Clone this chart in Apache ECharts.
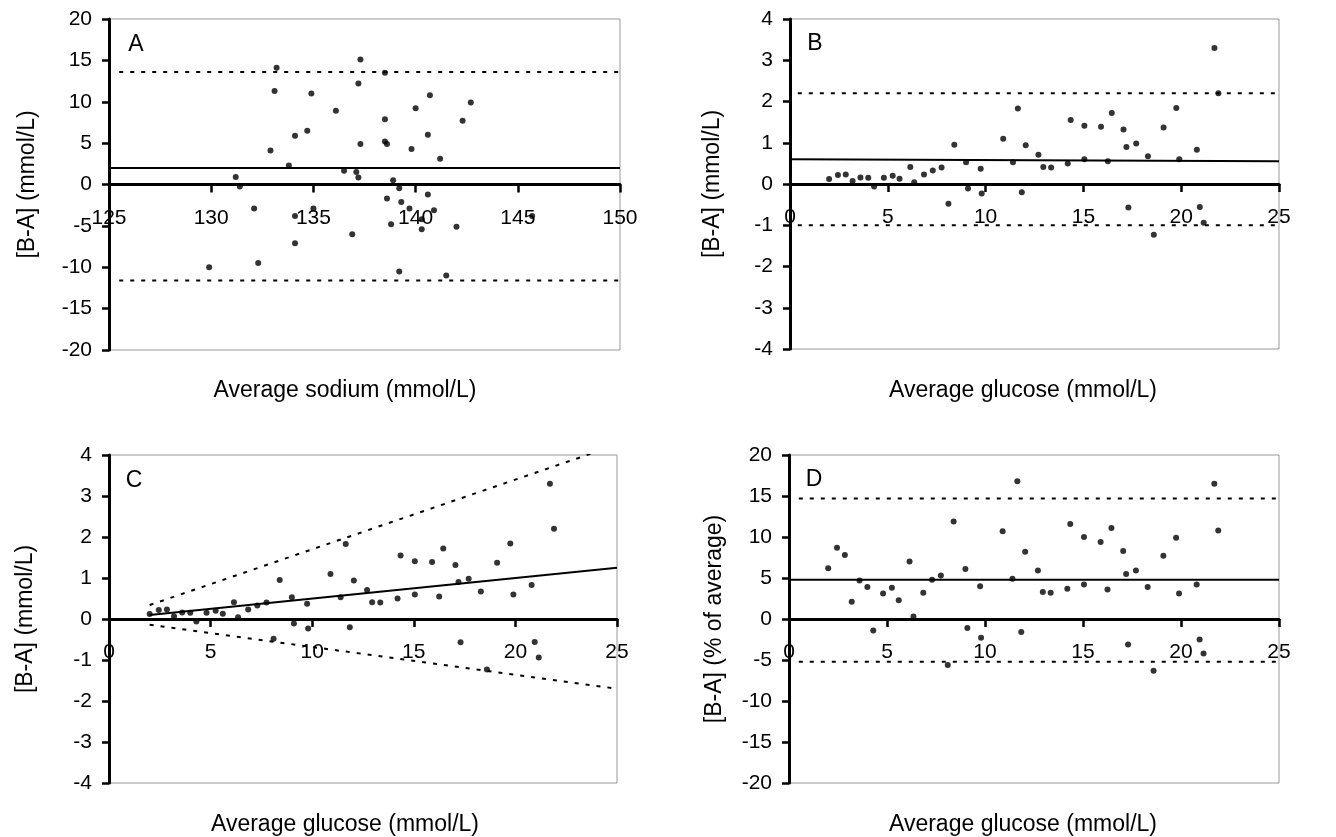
<!DOCTYPE html>
<html>
<head>
<meta charset="utf-8">
<script src="https://cdn.jsdelivr.net/npm/echarts@6/dist/echarts.min.js"></script>
<style>
  html, body { margin: 0; background: #fff; }
  #chart { width: 1336px; height: 837px; }
</style>
</head>
<body>
<div id="chart"></div>
<script>
// panel A: sodium
const sodiumAvg = [133.2, 137.3, 138.5, 133.1, 134.9, 137.2, 136.1, 140.7, 140.0, 142.7, 138.5, 142.3,
  134.1, 134.7, 137.3, 138.5, 138.6, 140.6, 139.8, 132.9, 141.2, 133.8, 136.5, 137.1, 137.2, 131.2,
  131.4, 138.9, 139.2, 138.6, 139.3, 139.7, 140.6, 140.9, 132.1, 134.1, 135.0, 138.8, 140.3, 140.3,
  142.0, 136.9, 134.1, 129.9, 132.3, 139.2, 141.5, 145.7];
const sodiumDiff = [14.1, 15.1, 13.5, 11.3, 11.0, 12.2, 8.9, 10.8, 9.2, 9.9, 7.9, 7.7,
  5.9, 6.5, 4.9, 5.2, 4.9, 6.0, 4.3, 4.1, 3.1, 2.3, 1.65, 1.5, 0.85, 0.9,
  -0.25, 0.5, -0.45, -1.7, -2.1, -2.9, -1.2, -3.1, -2.9, -3.8, -2.9, -4.8, -4.2, -5.4,
  -5.1, -6.0, -7.1, -10.0, -9.5, -10.5, -11.0, -3.8];
const sodiumBias = 2.0;
const sodiumLimits = [13.6, -11.6];

// panels B, C, D: glucose
const glucoseAvg = [2.0, 2.45, 2.85, 3.2, 3.6, 4.0, 4.3, 4.8, 5.25, 5.6, 6.15, 6.35, 6.85, 7.3, 7.75,
  8.1, 8.4, 9.0, 9.1, 9.75, 9.8, 10.9, 11.4, 11.65, 11.85, 12.05, 12.7, 12.95, 13.35, 14.2, 14.35,
  15.05, 15.05, 15.9, 16.25, 16.45, 17.05, 17.2, 17.3, 17.7, 18.3, 18.6, 19.1, 19.75, 19.9, 20.8,
  20.95, 21.15, 21.7, 21.9];
const glucoseDiff = [0.12, 0.22, 0.23, 0.07, 0.16, 0.15, -0.06, 0.15, 0.20, 0.13, 0.41, 0.04, 0.23,
  0.33, 0.40, -0.48, 0.95, 0.53, -0.11, 0.37, -0.23, 1.10, 0.53, 1.83, -0.20, 0.94, 0.71, 0.41, 0.40,
  0.50, 1.55, 1.41, 0.60, 1.39, 0.55, 1.72, 1.32, 0.90, -0.57, 0.98, 0.67, -1.23, 1.37, 1.84, 0.60,
  0.83, -0.56, -0.94, 3.30, 2.20];
const glucosePctDiff = [6.2, 8.7, 7.8, 2.1, 4.7, 3.9, -1.4, 3.1, 3.8, 2.3, 7.0, 0.3, 3.2, 4.8, 5.3,
  -5.6, 11.9, 6.1, -1.1, 4.0, -2.3, 10.7, 4.9, 16.8, -1.6, 8.2, 5.9, 3.3, 3.2, 3.7, 11.6, 10.0, 4.2,
  9.4, 3.6, 11.1, 8.3, 5.5, -3.1, 5.9, 3.9, -6.3, 7.7, 9.9, 3.1, 4.2, -2.5, -4.2, 16.5, 10.8];

// B: constant bias (slight drift) and limits
const glucoseBias = [0.6, 0.55];      // at x = 0 and x = 25
const glucoseLimits = [2.2, -1.0];
// C: proportional bias and limits, at x = 2 and x = 25
const propX = [2, 25];
const propBias = [0.1, 1.25];
const propUpper = [0.34, 4.25];
const propLower = [-0.14, -1.7];
// D: percentage bias and limits
const pctBias = 4.8;
const pctLimits = [14.7, -5.2];

const yRanges = [[-20, 20, 5], [-4, 4, 1], [-4, 4, 1], [-20, 20, 5]];

const FONT = '"Liberation Sans", Arial, sans-serif';
const DOTS = [4, 7];

const grids = [
  { left: 109, top: 19, width: 511, height: 331 },
  { left: 790, top: 19, width: 489, height: 330 },
  { left: 109, top: 455, width: 508, height: 328 },
  { left: 789, top: 455, width: 490, height: 328 }
].map(g => ({ ...g, show: true, borderColor: '#999', borderWidth: 1 }));

// x axis sits on y = 0: lift it from the grid bottom by the zero position
function xAxis(i, min, max) {
  const [ymin, ymax] = yRanges[i];
  const lift = grids[i].height * (0 - ymin) / (ymax - ymin);
  return {
    type: 'value', gridIndex: i, min, max, interval: 5,
    position: 'bottom', offset: -lift,
    axisLine: { show: true, onZero: false, lineStyle: { color: '#000', width: 3 } },
    axisTick: { show: true, length: 8, lineStyle: { color: '#000', width: 2.5 } },
    axisLabel: { color: '#000', fontSize: 21, fontFamily: FONT, margin: 23, showMinLabel: true, showMaxLabel: true },
    splitLine: { show: false }
  };
}

function yAxis(i, name, gap) {
  const [min, max, interval] = yRanges[i];
  return {
    type: 'value', gridIndex: i, min, max, interval,
    name, nameLocation: 'middle', nameGap: gap,
    nameTextStyle: { color: '#000', fontSize: 23, fontFamily: FONT },
    axisLine: { show: true, onZero: false, lineStyle: { color: '#000', width: 3 } },
    axisTick: { show: true, length: 7, lineStyle: { color: '#000', width: 2.5 } },
    axisLabel: { color: '#000', fontSize: 21, fontFamily: FONT, margin: 17 },
    splitLine: { show: false }
  };
}

function zip(xs, ys) {
  return xs.map((x, k) => [x, ys[k]]);
}

function dots(i, xs, ys) {
  return {
    type: 'scatter', xAxisIndex: i, yAxisIndex: i,
    data: zip(xs, ys), symbol: 'circle', symbolSize: 6,
    itemStyle: { color: '#000' }, z: 3
  };
}

function line(i, data, dashed) {
  return {
    type: 'line', xAxisIndex: i, yAxisIndex: i, data,
    symbol: 'none', silent: true, clip: true,
    lineStyle: { color: '#000', width: 2, type: dashed ? DOTS : 'solid' },
    z: 2
  };
}

function text(str, x, y, size) {
  return {
    type: 'text', x, y, silent: true,
    style: {
      text: str, fill: '#000', font: size + 'px ' + FONT,
      align: 'center', verticalAlign: 'middle', textAlign: 'center', textVerticalAlign: 'middle'
    }
  };
}

const chart = echarts.init(document.getElementById('chart'));
chart.setOption({
  animation: false,
  backgroundColor: '#fff',
  grid: grids,
  xAxis: [xAxis(0, 125, 150), xAxis(1, 0, 25), xAxis(2, 0, 25), xAxis(3, 0, 25)],
  yAxis: [
    yAxis(0, '[B-A] (mmol/L)', 70),
    yAxis(1, '[B-A] (mmol/L)', 66),
    yAxis(2, '[B-A] (mmol/L)', 72),
    yAxis(3, '[B-A] (% of average)', 63)
  ],
  graphic: [
    text('A', 136, 45, 23), text('B', 815, 44, 23), text('C', 134, 481, 23), text('D', 814, 480, 23),
    text('Average sodium (mmol/L)', 345, 391, 23),
    text('Average glucose (mmol/L)', 1023, 391, 23),
    text('Average glucose (mmol/L)', 345, 825, 23),
    text('Average glucose (mmol/L)', 1023, 825, 23)
  ],
  series: [
    // A
    line(0, [[125, sodiumBias], [150, sodiumBias]], false),
    line(0, [[125.5, sodiumLimits[0]], [150, sodiumLimits[0]]], true),
    line(0, [[125.5, sodiumLimits[1]], [150, sodiumLimits[1]]], true),
    dots(0, sodiumAvg, sodiumDiff),
    // B
    line(1, [[0, glucoseBias[0]], [25, glucoseBias[1]]], false),
    line(1, [[0.4, glucoseLimits[0]], [25, glucoseLimits[0]]], true),
    line(1, [[0.4, glucoseLimits[1]], [25, glucoseLimits[1]]], true),
    dots(1, glucoseAvg, glucoseDiff),
    // C
    line(2, zip(propX, propBias), false),
    line(2, zip(propX, propUpper), true),
    line(2, zip(propX, propLower), true),
    dots(2, glucoseAvg, glucoseDiff),
    // D
    line(3, [[0, pctBias], [25, pctBias]], false),
    line(3, [[0.5, pctLimits[0]], [25, pctLimits[0]]], true),
    line(3, [[0.5, pctLimits[1]], [25, pctLimits[1]]], true),
    dots(3, glucoseAvg, glucosePctDiff)
  ]
});
window.addEventListener('resize', () => chart.resize());
</script>
</body>
</html>
